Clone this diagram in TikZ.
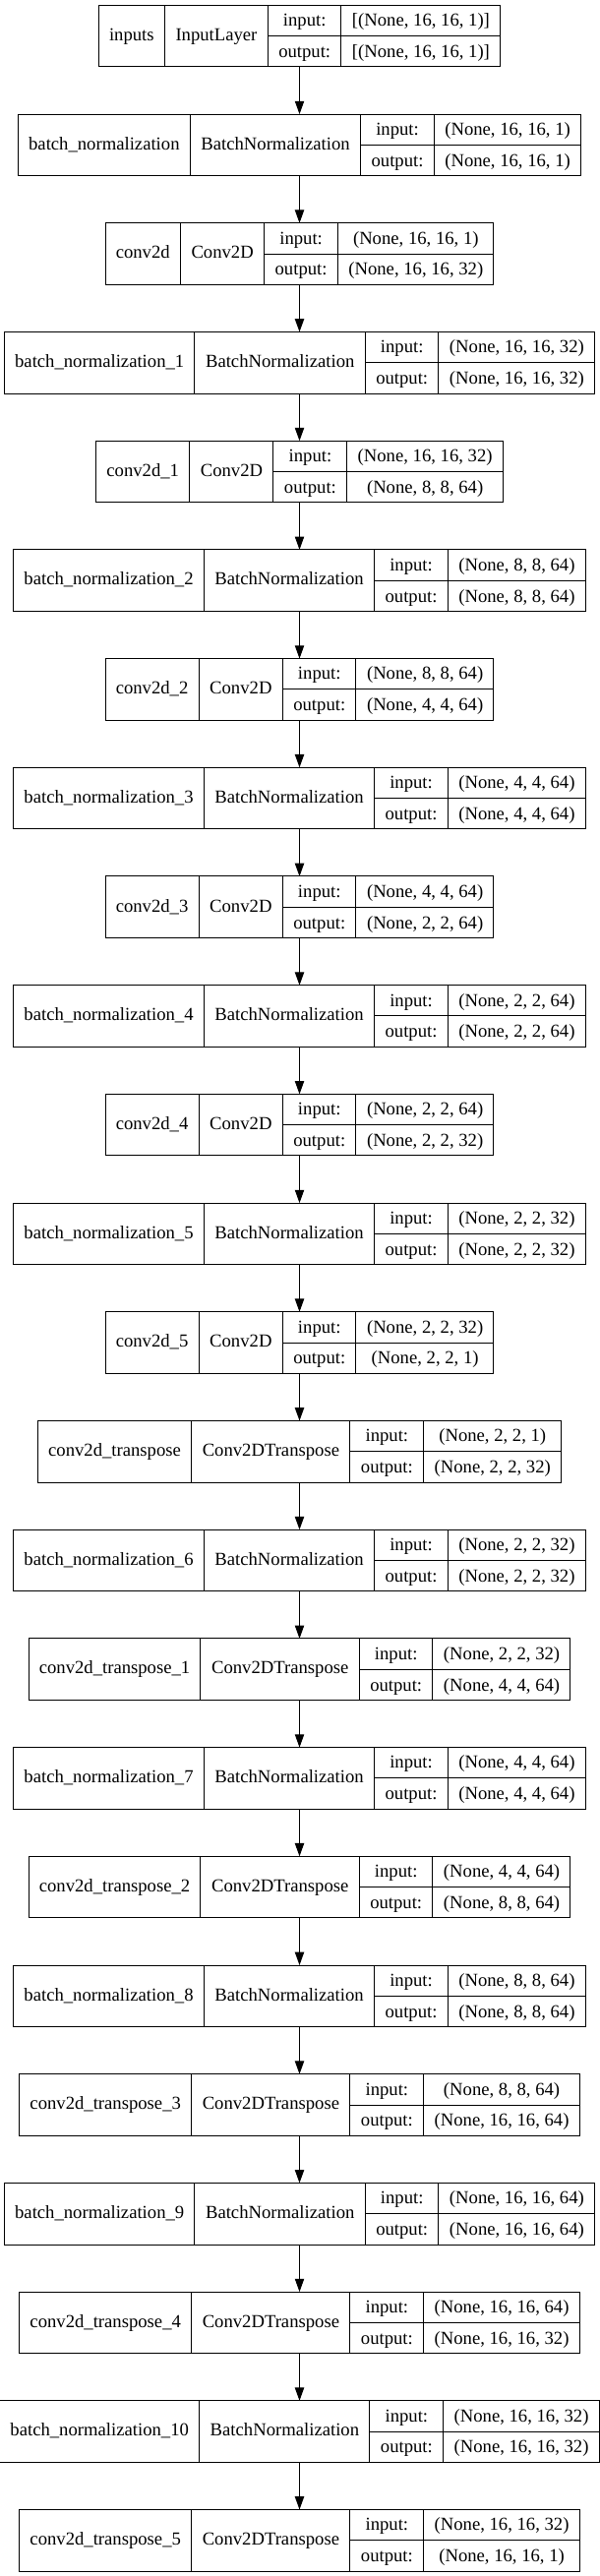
\documentclass[tikz,border=0pt]{standalone}
\usepackage{fontspec}
\setmainfont{Liberation Serif}
\usetikzlibrary{arrows.meta}
\setlength{\arrayrulewidth}{0.75bp}
\newcommand{\rowstrut}{\rule[-7.1bp]{0pt}{23.1bp}}
\newcommand{\lyr}[5]{%
  \node[lbox] (L#1) at (304.5,{36.68+110.7*#1}) {%
    \begin{tabular}{@{\hspace{8bp}}c@{\hspace{8bp}}|@{\hspace{8bp}}c@{\hspace{8bp}}|@{}c@{}}%
      #2 & #3 &
      \begin{tabular}{@{\hspace{8bp}}c@{\hspace{8bp}}|@{\hspace{8bp}}c@{\hspace{8bp}}}%
        \rowstrut input: & #4\\\hline
        \rowstrut output: & #5
      \end{tabular}%
    \end{tabular}};}
\tikzset{
  lbox/.style={draw=black, line width=0.75bp, inner sep=0pt, outer sep=0pt,
    font=\fontsize{14bp}{16.8bp}\selectfont},
  arr/.style={draw=black, line width=0.75bp, -{Triangle[length=10bp,width=7bp]}}
}
\begin{document}
\begin{tikzpicture}[x=0.75bp,y=-0.75bp]
\useasboundingbox (0,0) rectangle (609,2619);
\lyr{0}{inputs}{InputLayer}{[(None, 16, 16, 1)]}{[(None, 16, 16, 1)]}
\lyr{1}{batch\_normalization}{BatchNormalization}{(None, 16, 16, 1)}{(None, 16, 16, 1)}
\lyr{2}{conv2d}{Conv2D}{(None, 16, 16, 1)}{(None, 16, 16, 32)}
\lyr{3}{batch\_normalization\_1}{BatchNormalization}{(None, 16, 16, 32)}{(None, 16, 16, 32)}
\lyr{4}{conv2d\_1}{Conv2D}{(None, 16, 16, 32)}{(None, 8, 8, 64)}
\lyr{5}{batch\_normalization\_2}{BatchNormalization}{(None, 8, 8, 64)}{(None, 8, 8, 64)}
\lyr{6}{conv2d\_2}{Conv2D}{(None, 8, 8, 64)}{(None, 4, 4, 64)}
\lyr{7}{batch\_normalization\_3}{BatchNormalization}{(None, 4, 4, 64)}{(None, 4, 4, 64)}
\lyr{8}{conv2d\_3}{Conv2D}{(None, 4, 4, 64)}{(None, 2, 2, 64)}
\lyr{9}{batch\_normalization\_4}{BatchNormalization}{(None, 2, 2, 64)}{(None, 2, 2, 64)}
\lyr{10}{conv2d\_4}{Conv2D}{(None, 2, 2, 64)}{(None, 2, 2, 32)}
\lyr{11}{batch\_normalization\_5}{BatchNormalization}{(None, 2, 2, 32)}{(None, 2, 2, 32)}
\lyr{12}{conv2d\_5}{Conv2D}{(None, 2, 2, 32)}{(None, 2, 2, 1)}
\lyr{13}{conv2d\_transpose}{Conv2DTranspose}{(None, 2, 2, 1)}{(None, 2, 2, 32)}
\lyr{14}{batch\_normalization\_6}{BatchNormalization}{(None, 2, 2, 32)}{(None, 2, 2, 32)}
\lyr{15}{conv2d\_transpose\_1}{Conv2DTranspose}{(None, 2, 2, 32)}{(None, 4, 4, 64)}
\lyr{16}{batch\_normalization\_7}{BatchNormalization}{(None, 4, 4, 64)}{(None, 4, 4, 64)}
\lyr{17}{conv2d\_transpose\_2}{Conv2DTranspose}{(None, 4, 4, 64)}{(None, 8, 8, 64)}
\lyr{18}{batch\_normalization\_8}{BatchNormalization}{(None, 8, 8, 64)}{(None, 8, 8, 64)}
\lyr{19}{conv2d\_transpose\_3}{Conv2DTranspose}{(None, 8, 8, 64)}{(None, 16, 16, 64)}
\lyr{20}{batch\_normalization\_9}{BatchNormalization}{(None, 16, 16, 64)}{(None, 16, 16, 64)}
\lyr{21}{conv2d\_transpose\_4}{Conv2DTranspose}{(None, 16, 16, 64)}{(None, 16, 16, 32)}
\lyr{22}{batch\_normalization\_10}{BatchNormalization}{(None, 16, 16, 32)}{(None, 16, 16, 32)}
\lyr{23}{conv2d\_transpose\_5}{Conv2DTranspose}{(None, 16, 16, 32)}{(None, 16, 16, 1)}
\foreach \i [evaluate=\i as \j using int(\i+1)] in {0,...,22}
  \draw[arr] (L\i.south) -- (L\j.north);
\end{tikzpicture}
\end{document}
